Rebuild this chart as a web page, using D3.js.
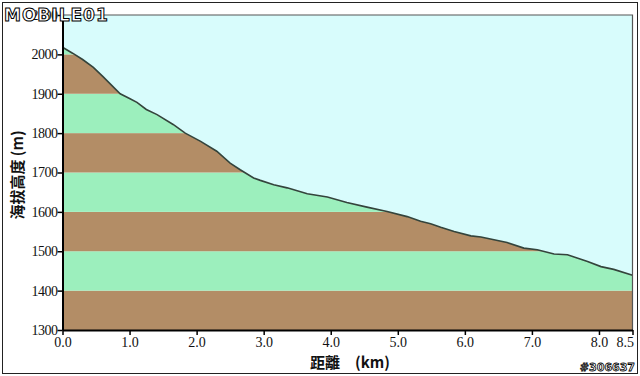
<!DOCTYPE html>
<html>
<head>
<meta charset="utf-8">
<script src="https://cdn.jsdelivr.net/npm/d3@7/dist/d3.min.js"></script>
<style>
  body { margin: 0; background: #fff; }
  svg { display: block; }
</style>
</head>
<body>
<div id="chart"></div>
<script>
// profile
var distKm = [0, 0.15, 0.3, 0.46, 0.6, 0.86, 1.0, 1.11, 1.25, 1.41, 1.65, 1.83, 2.06, 2.3, 2.5, 2.65, 2.85, 2.95,
  3.15, 3.35, 3.65, 3.95, 4.24, 4.54, 4.84, 5.14, 5.34, 5.49, 5.64, 5.84, 6.09, 6.24, 6.63, 6.88, 7.08,
  7.33, 7.53, 7.83, 8.03, 8.22, 8.5];
var elevM = [2018, 2003, 1987, 1967, 1944, 1900, 1888, 1878, 1860, 1847, 1822, 1800, 1779, 1754, 1724, 1707, 1686, 1680,
  1669, 1661, 1646, 1638, 1624, 1612, 1601, 1588, 1576, 1570, 1561, 1550, 1539, 1536, 1522, 1508, 1504,
  1493, 1491, 1474, 1461, 1454, 1439];
var bandEdges = [1300, 1400, 1500, 1600, 1700, 1800, 1900, 2000, 2100];
var xTicks = [0, 1, 2, 3, 4, 5, 6, 7, 8, 8.5];
var yTicks = [1300, 1400, 1500, 1600, 1700, 1800, 1900, 2000, 2100];

var width = 640, height = 376;
var margin = {left: 62.5, right: 632.5, top: 15, bottom: 330};

var svg = d3.select("#chart").append("svg")
    .attr("width", width)
    .attr("height", height);

// outer frame
svg.append("rect")
    .attr("x", 2.5).attr("y", 2.5)
    .attr("width", 635).attr("height", 371)
    .attr("fill", "#fff")
    .attr("stroke", "#222")
    .attr("stroke-width", 1);

var x = d3.scaleLinear().domain([0, 8.5]).range([margin.left, margin.right]);
var y = d3.scaleLinear().domain([1300, 2100]).range([margin.bottom, margin.top]);

var profile = distKm.map(function(d, i) { return {d: d, e: elevM[i]}; });

svg.append("clipPath").attr("id", "plot")
  .append("rect")
    .attr("x", margin.left).attr("y", margin.top)
    .attr("width", margin.right - margin.left).attr("height", margin.bottom - margin.top);

var plot = svg.append("g").attr("clip-path", "url(#plot)");

// colour bands
plot.selectAll("rect.band")
    .data(bandEdges.slice(0, -1))
    .enter().append("rect")
    .attr("class", "band")
    .attr("x", margin.left)
    .attr("width", margin.right - margin.left)
    .attr("y", function(d) { return y(d + 100); })
    .attr("height", function(d) { return y(d) - y(d + 100); })
    .attr("fill", function(d, i) { return i % 2 === 0 ? "#b38d66" : "#9cefbd"; });

// sky above the profile
var sky = d3.area()
    .x(function(p) { return x(p.d); })
    .y0(y(2100))
    .y1(function(p) { return y(p.e); });

plot.append("path")
    .datum(profile)
    .attr("d", sky)
    .attr("fill", "#d8fcfc");

var line = d3.line()
    .x(function(p) { return x(p.d); })
    .y(function(p) { return y(p.e); });

plot.append("path")
    .datum(profile)
    .attr("d", line)
    .attr("fill", "none")
    .attr("stroke", "#34443c")
    .attr("stroke-width", 1.6);

// thin frame on top/right
svg.append("path")
    .attr("d", "M" + margin.left + "," + margin.top + "H" + margin.right + "V" + margin.bottom)
    .attr("fill", "none")
    .attr("stroke", "#555")
    .attr("stroke-width", 1.2);

var xAxis = svg.append("g")
    .attr("transform", "translate(0," + margin.bottom + ")")
    .call(d3.axisBottom(x).tickValues(xTicks).tickFormat(d3.format(".1f")).tickSize(5).tickSizeOuter(0));

var yAxis = svg.append("g")
    .attr("transform", "translate(" + margin.left + ",0)")
    .call(d3.axisLeft(y).tickValues(yTicks).tickFormat(d3.format("d")).tickSize(5).tickSizeOuter(0));

[xAxis, yAxis].forEach(function(g) {
  g.select(".domain").attr("stroke", "#000").attr("stroke-width", 2);
  g.selectAll(".tick line").attr("stroke", "#000").attr("stroke-width", 1.5);
  g.selectAll(".tick text")
      .attr("fill", "#111")
      .style("font-family", "'Liberation Serif', 'DejaVu Serif', serif")
      .style("font-size", "14px");
});
xAxis.selectAll(".tick text").attr("dy", "0.9em").attr("y", 4);
xAxis.selectAll(".tick text").filter(function(d) { return d === 8.5; })
    .attr("text-anchor", "end").attr("x", 1);
yAxis.selectAll(".tick text").attr("x", -5).style("letter-spacing", "-0.5px");

// axis titles
svg.append("text")
    .attr("transform", "translate(23,175) rotate(-90)")
    .attr("text-anchor", "middle")
    .style("font-family", "'Noto Sans CJK TC', sans-serif")
    .style("font-weight", "bold")
    .style("font-size", "15px")
    .attr("fill", "#111")
    .text("海拔高度 (m)");

svg.append("text")
    .attr("x", 350).attr("y", 368)
    .attr("text-anchor", "middle")
    .style("font-family", "'Noto Sans CJK TC', sans-serif")
    .style("font-weight", "bold")
    .style("font-size", "15px")
    .attr("fill", "#111")
    .text("距離　(km)");

// watermark bits
svg.append("text")
    .attr("x", 4).attr("y", 21)
    .style("font-family", "'DejaVu Sans', sans-serif")
    .style("font-weight", "bold")
    .style("font-size", "17px")
    .style("letter-spacing", "1px")
    .attr("fill", "#fff")
    .attr("stroke", "#000")
    .attr("stroke-width", 1)
    .text("MOBILE01");

svg.append("text")
    .attr("x", 635).attr("y", 371)
    .attr("text-anchor", "end")
    .style("font-family", "'DejaVu Sans', sans-serif")
    .style("font-weight", "bold")
    .style("font-size", "11px")
    .attr("fill", "#fff")
    .attr("stroke", "#000")
    .attr("stroke-width", 0.8)
    .text("#306637");
</script>
</body>
</html>
